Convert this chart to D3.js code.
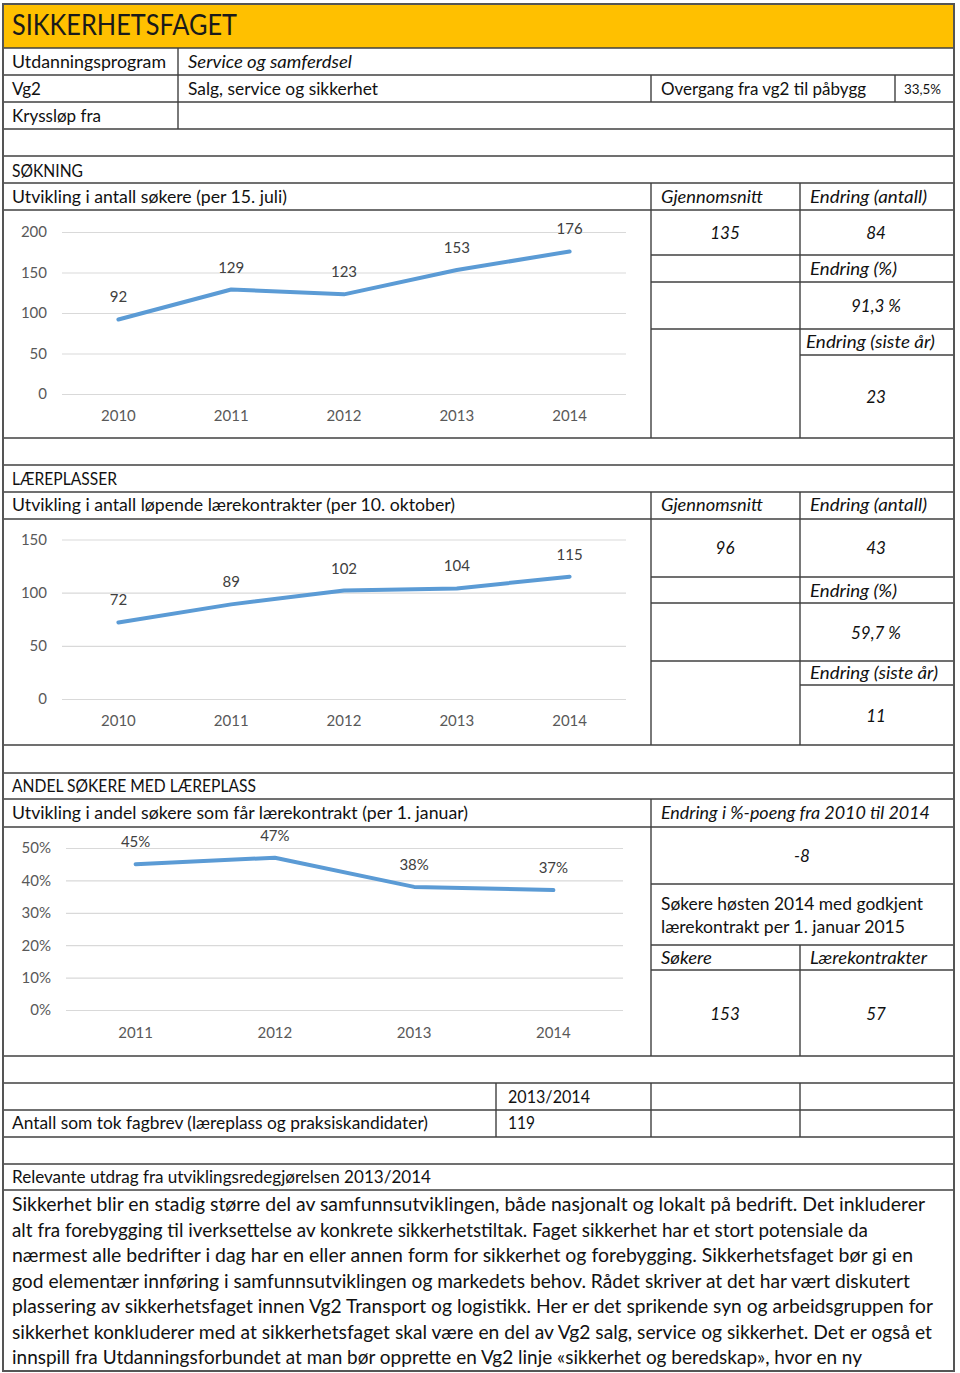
<!DOCTYPE html>
<html><head><meta charset="utf-8">
<script src="https://cdn.jsdelivr.net/npm/d3@7"></script>
<style>body{margin:0;background:#fff}svg{display:block;font-family:Lato,"Open Sans",sans-serif}</style>
</head><body>
<svg id="c" width="960" height="1373"></svg>
<script>
// ---- data ----
const years1 = ["2010","2011","2012","2013","2014"];
const soekere = [92,129,123,153,176];
const soekTicks = [0,50,100,150,200];
const laereYears = ["2010","2011","2012","2013","2014"];
const laerekontrakter = [72,89,102,104,115];
const laereTicks = [0,50,100,150];
const andelYears = ["2011","2012","2013","2014"];
const andel = [0.45,0.47,0.38,0.37];
const andelTicks = [0,0.1,0.2,0.3,0.4,0.5];
const soekStats = ["135","84","91,3 %","23"];
const laereStats = ["96","43","59,7 %","11"];
const andelStats = ["-8","153","57"];
const fagbrev = ["2013/2014","119"];
const paragraph = [
 "Sikkerhet blir en stadig større del av samfunnsutviklingen, både nasjonalt og lokalt på bedrift.  Det inkluderer",
 "alt fra forebygging til iverksettelse av konkrete sikkerhetstiltak. Faget sikkerhet har et stort potensiale da",
 "nærmest alle bedrifter i dag har en eller annen form for sikkerhet og forebygging. Sikkerhetsfaget bør gi en",
 "god elementær innføring i samfunnsutviklingen og markedets behov. Rådet skriver at det har vært diskutert",
 "plassering av sikkerhetsfaget innen Vg2 Transport og logistikk. Her er det sprikende syn og arbeidsgruppen for",
 "sikkerhet konkluderer med at sikkerhetsfaget skal være en del av Vg2 salg, service og sikkerhet. Det er også et",
 "innspill fra Utdanningsforbundet at man bør opprette en Vg2 linje «sikkerhet og beredskap», hvor en ny"
];
const paraWidths = [913,856,901,898,921,920,850];

// ---- drawing ----
const svg = d3.select("#c");
const LC = "#404040";
function L(x1,y1,x2,y2){svg.append("line").attr("x1",x1).attr("y1",y1).attr("x2",x2).attr("y2",y2).attr("stroke",LC).attr("stroke-width",1.4);}
function T(str,x,y,o={}){
  const t=svg.append("text").attr("x",x).attr("y",y).text(str)
    .attr("font-size",o.size||17).attr("fill",o.fill||"#111")
    .attr("text-anchor",o.anchor||"start");
  if(o.italic) t.attr("font-style","italic");
  if(o.w) t.attr("textLength",o.w).attr("lengthAdjust","spacingAndGlyphs");
  return t;
}

// header
svg.append("rect").attr("x",3).attr("y",4).attr("width",951).attr("height",44).attr("fill","#FFC000");
T("SIKKERHETSFAGET",12,35,{size:28,w:225,fill:"#1a1a1a"});

// horizontal full lines
[48,75,102,129,156,183,210,438,465,492,519,745,773,799,827,1056,1083,1110,1137,1164,1190].forEach(y=>L(3,y,954,y));
// top info rows
L(178,48,178,129); L(651,75,651,102); L(895,75,895,102);
T("Utdanningsprogram",12,68,{w:154});
T("Service og samferdsel",188,68,{italic:true,w:164});
T("Vg2",12,95,{w:29});
T("Salg, service og sikkerhet",188,95,{w:190});
T("Overgang fra vg2 til påbygg",661,95,{w:205});
T("33,5%",904,94,{size:13,w:37});
T("Kryssløp fra",12,122,{w:89});

// section 1
T("SØKNING",12,177,{w:71});
T("Utvikling i antall søkere (per 15. juli)",12,203,{w:275});
L(651,183,651,438); L(800,183,800,438);
L(651,255,954,255); L(651,282,954,282); L(651,329,954,329); L(800,355,954,355);
T("Gjennomsnitt",661,203,{italic:true,w:102});
T("Endring (antall)",810,203,{italic:true,w:117});
T(soekStats[0],725,239,{italic:true,anchor:"middle"});
T(soekStats[1],876,239,{italic:true,anchor:"middle"});
T("Endring (%)",810,275,{italic:true,w:87});
T(soekStats[2],876,312,{italic:true,anchor:"middle"});
T("Endring (siste år)",806,348,{italic:true,w:129});
T(soekStats[3],876,403,{italic:true,anchor:"middle"});

// section 2
T("LÆREPLASSER",12,485,{w:105});
T("Utvikling i antall løpende lærekontrakter (per 10. oktober)",12,511,{w:443});
L(651,492,651,745); L(800,492,800,745);
L(651,577,954,577); L(651,603,954,603); L(651,661,954,661); L(800,685,954,685);
T("Gjennomsnitt",661,511,{italic:true,w:102});
T("Endring (antall)",810,511,{italic:true,w:117});
T(laereStats[0],725,554,{italic:true,anchor:"middle"});
T(laereStats[1],876,554,{italic:true,anchor:"middle"});
T("Endring (%)",810,597,{italic:true,w:87});
T(laereStats[2],876,639,{italic:true,anchor:"middle"});
T("Endring (siste år)",810,679,{italic:true,w:128});
T(laereStats[3],876,722,{italic:true,anchor:"middle"});

// section 3
T("ANDEL SØKERE MED LÆREPLASS",12,792,{w:244});
T("Utvikling i andel søkere som får lærekontrakt (per 1. januar)",12,819,{w:456});
L(651,799,651,1056); L(800,945,800,1056);
L(651,884,954,884); L(651,945,954,945); L(651,970,954,970);
T("Endring i %-poeng fra 2010 til 2014",661,819,{italic:true,w:269});
T(andelStats[0],802,862,{italic:true,anchor:"middle"});
T("Søkere høsten 2014 med godkjent",661,910,{w:262});
T("lærekontrakt per 1. januar 2015",661,933,{w:244});
T("Søkere",661,964,{italic:true,w:51});
T("Lærekontrakter",810,964,{italic:true,w:117});
T(andelStats[1],725,1020,{italic:true,anchor:"middle"});
T(andelStats[2],876,1020,{italic:true,anchor:"middle"});

// section 4
L(496,1083,496,1137); L(651,1083,651,1137); L(800,1083,800,1137);
T(fagbrev[0],508,1103,{w:82});
T("Antall som tok fagbrev (læreplass og praksiskandidater)",12,1129,{w:416});
T(fagbrev[1],508,1129,{w:27});
T("Relevante utdrag fra utviklingsredegjørelsen 2013/2014",12,1183,{w:419});
paragraph.forEach((s,i)=>T(s,12,1211+i*25.5,{size:18.5,w:paraWidths[i]}));

// outer border
svg.append("rect").attr("x",3).attr("y",4).attr("width",951).attr("height",1367)
  .attr("fill","none").attr("stroke","#555").attr("stroke-width",2);

// ---- charts ----
function lineChart(cats, vals, ticks, xr, y0, y1, dmax, fmt, labFmt, yearPad){
  const x=d3.scaleBand().domain(cats).range(xr).padding(0);
  const y=d3.scaleLinear().domain([0,dmax]).range([y0,y1]);
  const g=svg.append("g");
  const ya=g.append("g").attr("transform",`translate(${xr[0]},0)`)
    .call(d3.axisLeft(y).tickValues(ticks).tickFormat(fmt).tickSizeInner(-(xr[1]-xr[0])).tickSizeOuter(0).tickPadding(15));
  ya.select(".domain").remove();
  ya.selectAll("line").attr("stroke","#d9d9d9").attr("stroke-width",1.2);
  ya.selectAll("text").attr("fill","#595959").attr("font-size",15).attr("font-family","Lato,sans-serif");
  const xa=g.append("g").attr("transform",`translate(0,${y0})`)
    .call(d3.axisBottom(x).tickSize(0).tickPadding(yearPad));
  xa.select(".domain").remove();
  xa.selectAll("text").attr("fill","#595959").attr("font-size",15).attr("font-family","Lato,sans-serif");
  const cx=d=>x(d)+x.bandwidth()/2;
  g.append("path").datum(vals.map((v,i)=>[cats[i],v]))
    .attr("d",d3.line().x(d=>cx(d[0])).y(d=>y(d[1])))
    .attr("fill","none").attr("stroke","#5B9BD5").attr("stroke-width",4).attr("stroke-linecap","round").attr("stroke-linejoin","round");
  g.selectAll(".lab").data(vals).join("text")
    .attr("x",(d,i)=>cx(cats[i])).attr("y",d=>y(d)-17).attr("text-anchor","middle")
    .attr("font-size",15).attr("fill","#404040").text(labFmt);
}
lineChart(years1, soekere, soekTicks, [62,626], 394, 232, 200, d3.format("d"), d=>d, 16);
lineChart(laereYears, laerekontrakter, laereTicks, [62,626], 699, 539.5, 150, d3.format("d"), d=>d, 16);
lineChart(andelYears, andel, andelTicks, [66,623], 1010, 848, 0.5, d3.format(".0%"), d3.format(".0%"), 17);
</script>
</body></html>
